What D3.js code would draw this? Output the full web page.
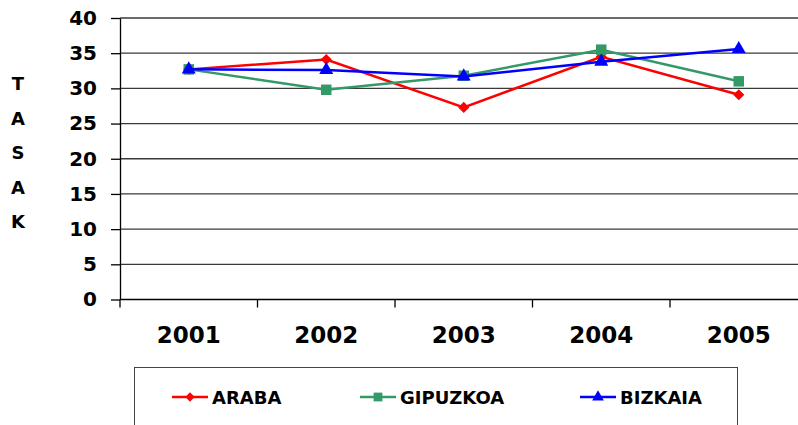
<!DOCTYPE html>
<html>
<head>
<meta charset="utf-8">
<script src="https://cdn.jsdelivr.net/npm/d3@7"></script>
<style>
  body { margin: 0; background: #fff; }
  text { font-family: "DejaVu Sans", sans-serif; font-weight: bold; fill: #000; }
</style>
</head>
<body>
<div id="chart"></div>
<script>
// data
var years = ["2001", "2002", "2003", "2004", "2005"];
var araba = [32.7, 34.1, 27.3, 34.5, 29.1];
var gipuzkoa = [32.7, 29.8, 31.8, 35.5, 31.0];
var bizkaia = [32.7, 32.6, 31.7, 33.8, 35.6];
var yTicks = [0, 5, 10, 15, 20, 25, 30, 35, 40];
var axisTitle = ["T", "A", "S", "A", "K"];

// diamond = square turned 45 degrees, like the spreadsheet marker
var series = [
    { name: "ARABA", values: araba, color: "#ff0000", symbol: d3.symbolSquare, size: 62, rotate: 45 },
    { name: "GIPUZKOA", values: gipuzkoa, color: "#339966", symbol: d3.symbolSquare, size: 110, rotate: 0 },
    { name: "BIZKAIA", values: bizkaia, color: "#0000ff", symbol: d3.symbolTriangle, size: 85, rotate: 0 }
];

var width = 798, height = 425;
var plotLeft = 120, plotTop = 18, plotBottom = 299.5, plotRight = 807.5;

var svg = d3.select("#chart")
    .append("svg")
    .attr("width", width)
    .attr("height", height);

var x = d3.scaleBand()
    .domain(years)
    .range([plotLeft, plotRight])
    .padding(0);

var y = d3.scaleLinear()
    .domain([0, 40])
    .range([plotBottom, plotTop]);

// gridlines
svg.append("g")
    .selectAll("line")
    .data(yTicks.filter(function(d) { return d > 0; }))
    .enter()
    .append("line")
    .attr("x1", plotLeft)
    .attr("x2", width)
    .attr("y1", function(d) { return y(d); })
    .attr("y2", function(d) { return y(d); })
    .attr("stroke", "#3a3a3a")
    .attr("stroke-width", 1.3);

// x axis line
svg.append("line")
    .attr("x1", plotLeft).attr("x2", width)
    .attr("y1", plotBottom).attr("y2", plotBottom)
    .attr("stroke", "#000").attr("stroke-width", 1.3);

// y axis
var yAxis = svg.append("g")
    .attr("transform", "translate(" + plotLeft + ",0)")
    .call(d3.axisLeft(y).tickValues(yTicks).tickSize(9).tickSizeOuter(0).tickPadding(14));
yAxis.select(".domain").attr("stroke", "#000").attr("stroke-width", 1.3);
yAxis.selectAll(".tick line").attr("stroke", "#000").attr("stroke-width", 1.3);
yAxis.selectAll(".tick text")
    .style("font-family", "DejaVu Sans")
    .style("font-weight", "bold")
    .style("font-size", "20px")
    .attr("fill", "#000");

// x ticks at band boundaries
var bounds = years.map(function(d) { return x(d); });
svg.append("g")
    .selectAll("line")
    .data(bounds)
    .enter()
    .append("line")
    .attr("x1", function(d) { return d; })
    .attr("x2", function(d) { return d; })
    .attr("y1", plotBottom)
    .attr("y2", plotBottom + 8)
    .attr("stroke", "#000")
    .attr("stroke-width", 1.3);

svg.append("g")
    .selectAll("text")
    .data(years)
    .enter()
    .append("text")
    .attr("x", function(d) { return x(d) + x.bandwidth() / 2; })
    .attr("y", 343)
    .attr("text-anchor", "middle")
    .style("font-size", "23px")
    .text(function(d) { return d; });

// vertical axis title
svg.append("g")
    .selectAll("text")
    .data(axisTitle)
    .enter()
    .append("text")
    .attr("x", 18)
    .attr("y", function(d, i) { return 90 + i * 34.5; })
    .attr("text-anchor", "middle")
    .style("font-size", "18px")
    .text(function(d) { return d; });

// lines and markers
var line = d3.line()
    .x(function(d, i) { return x(years[i]) + x.bandwidth() / 2; })
    .y(function(d) { return y(d); });

series.forEach(function(s) {
    svg.append("path")
        .datum(s.values)
        .attr("d", line)
        .attr("fill", "none")
        .attr("stroke", s.color)
        .attr("stroke-width", 2.5);

    svg.append("g")
        .selectAll("path")
        .data(s.values)
        .enter()
        .append("path")
        .attr("transform", function(d, i) {
            return "translate(" + (x(years[i]) + x.bandwidth() / 2) + "," + y(d) + ") rotate(" + s.rotate + ")";
        })
        .attr("d", d3.symbol().type(s.symbol).size(s.size))
        .attr("fill", s.color);
});

// legend
var legend = svg.append("g");
legend.append("rect")
    .attr("x", 134.5)
    .attr("y", 367.5)
    .attr("width", 603)
    .attr("height", 80)
    .attr("fill", "none")
    .attr("stroke", "#444")
    .attr("stroke-width", 1);

var legendX = [172, 360, 580];
series.forEach(function(s, i) {
    var g = legend.append("g").attr("transform", "translate(" + legendX[i] + ",397)");
    g.append("line")
        .attr("x1", 0).attr("x2", 36)
        .attr("y1", 0).attr("y2", 0)
        .attr("stroke", s.color)
        .attr("stroke-width", 2.5);
    g.append("path")
        .attr("transform", "translate(18,0) rotate(" + s.rotate + ")")
        .attr("d", d3.symbol().type(s.symbol).size(s.size * 0.7))
        .attr("fill", s.color);
    g.append("text")
        .attr("x", 40)
        .attr("y", 7)
        .style("font-size", "18px")
        .text(s.name);
});
</script>
</body>
</html>
